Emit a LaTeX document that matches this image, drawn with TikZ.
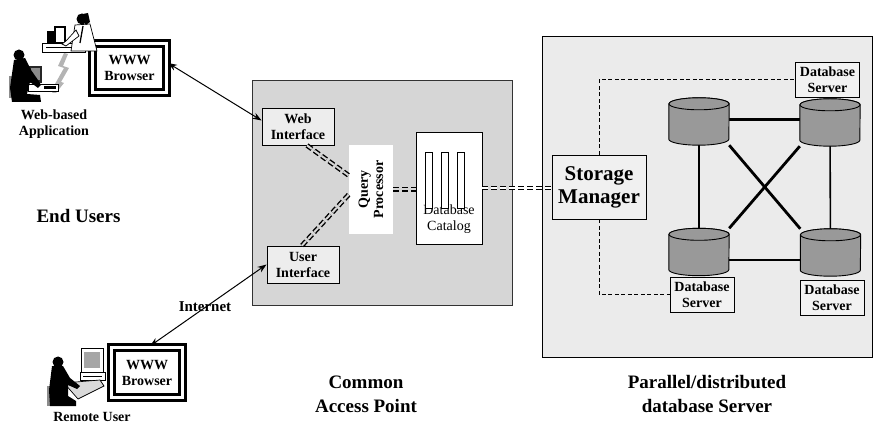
\documentclass[tikz,border=0pt]{standalone}
\usepackage{fontspec}
\setmainfont{Liberation Serif}
\usepackage{graphicx}
\usetikzlibrary{arrows.meta,calc}

\definecolor{midgray}{HTML}{D6D6D6}
\definecolor{panelgray}{HTML}{EBEBEB}
\definecolor{ifgray}{HTML}{EDEDED}
\definecolor{smgray}{HTML}{F0F0F0}
\definecolor{srvgray}{HTML}{F2F2F2}
\definecolor{drumgray}{HTML}{999999}
\definecolor{chairgray}{HTML}{8C8C8C}
\definecolor{boltgray}{HTML}{B4B4B4}

% cylinder (disk) drawn over an invisible placeholder node
\newcommand\drawdrum[1]{%
  \draw[drum] ($(#1.north west)+(0pt,-6pt)$) -- ($(#1.south west)+(0pt,6pt)$)
    arc[start angle=180,end angle=360,x radius=30pt,y radius=6pt]
    -- ($(#1.north east)+(0pt,-6pt)$)
    arc[start angle=0,end angle=180,x radius=30pt,y radius=6pt] -- cycle;
  \draw[drum] ($(#1.north)+(0pt,-6pt)$) ellipse[x radius=30pt,y radius=6pt];
}

\begin{document}
\begin{tikzpicture}[x=1pt,y=-1pt,
  lbl/.style={font=\bfseries\fontsize{14}{16}\selectfont, align=center, inner sep=0pt},
  caption/.style={font=\bfseries\fontsize{19}{24}\selectfont, align=center, inner sep=0pt},
  ifbox/.style={lbl, draw, fill=ifgray, line width=0.9pt, minimum width=72pt, minimum height=37pt},
  srvbox/.style={lbl, draw, fill=srvgray, line width=0.9pt, minimum width=64pt, minimum height=35pt},
  browser/.style={lbl, draw, double=white, double distance=3pt, line width=3pt},
  link/.style={line width=1pt, {Stealth[length=9pt,width=6.5pt]}-{Stealth[length=9pt,width=6.5pt]}},
  pipe/.style={double=midgray, double distance=2pt, line width=1.4pt, dash pattern=on 6pt off 3pt},
  ctrl/.style={line width=0.8pt, dash pattern=on 4pt off 2.5pt},
  mesh/.style={line width=2.8pt},
  drumbox/.style={minimum width=60pt, minimum height=47pt, inner sep=0pt},
  drum/.style={draw, fill=drumgray, line width=0.9pt}]

\useasboundingbox (0,0) rectangle (873,430);

% ---------- panels ----------
\node[draw=black!80, fill=midgray, line width=0.9pt, minimum width=260pt, minimum height=225pt, inner sep=0pt] (cap) at (382,192.5) {};
\node[draw, fill=panelgray, line width=0.9pt, minimum width=330pt, minimum height=321pt, inner sep=0pt] (dbs) at (707.5,196.5) {};

% ---------- common access point ----------
\node[ifbox] (web) at (298,126.5) {Web\\Interface};
\node[ifbox] (user) at (303,264.5) {User\\Interface};
\node[lbl, fill=white, minimum width=44pt, minimum height=89pt] (qp) at (371,189.5)
  {\rotatebox{90}{\shortstack{Query\\Processor}}};

\node[draw, fill=white, line width=0.9pt, minimum width=66pt, minimum height=112pt, inner sep=0pt] (cat) at (449,188) {};
\node[font=\fontsize{14}{16}\selectfont, align=center, inner sep=0pt] (catlbl) at (449,219) {Database\\Catalog};
\foreach \cx in {428.5,444.5,460.5}
  \draw[fill=white, line width=0.9pt] (\cx-3.5,152) rectangle (\cx+3.5,208);

% ---------- storage side ----------
\node[draw, fill=smgray, line width=0.9pt, minimum width=94pt, minimum height=64pt,
      font=\bfseries\fontsize{21}{23}\selectfont, align=center, inner sep=0pt] (sm) at (599,187) {Storage\\Manager};

\node[drumbox] (d1) at (699,121.5) {};
\node[drumbox] (d2) at (830,122.5) {};
\node[drumbox] (d3) at (699,252) {};
\node[drumbox] (d4) at (830.5,252.5) {};

% interconnect between the disks (ends hidden under the disks)
\draw[mesh] ([yshift=2pt]d1.center) -- ([yshift=2pt]d1.center -| d2.center);
\draw[mesh] ([yshift=-8pt]d3.center) -- ([yshift=-8pt]d3.center -| d4.center);
\draw[mesh] (d1.center) -- (d3.center);
\draw[line width=1.6pt] (d2.center) -- (d4.center);
\draw[mesh] (d1.south east) -- (d4.north west);
\draw[mesh] (d2.south west) -- (d3.north east);

\drawdrum{d1}
\drawdrum{d2}
\drawdrum{d3}
\drawdrum{d4}

\node[srvbox] (s2) at (827.5,79.5) {Database\\Server};
\node[srvbox] (s3) at (702,294.5) {Database\\Server};
\node[srvbox] (s4) at (832,298) {Database\\Server};

\draw[ctrl] (sm.north) -- (sm.north |- s2.west) -- (s2.west);
\draw[ctrl] (sm.south) -- (sm.south |- s3.west) -- (s3.west);

% ---------- data paths ----------
\draw[pipe] ([xshift=9pt]web.south) -- ([yshift=14pt]qp.west);
\draw[pipe] ([xshift=-1pt]user.north) -- ([yshift=-5pt]qp.west);
\draw[pipe] (qp.east) -- (qp.east -| cat.west);
\draw[pipe, double=white] (cat.east) -- (cat.east -| sm.west);

% ---------- end users ----------
\node[browser, minimum width=74pt, minimum height=49pt] (b1) at (129.5,68) {WWW\\Browser};
\node[browser, minimum width=71pt, minimum height=50pt] (b2) at (147,372.5) {WWW\\Browser};

\draw[link] ([yshift=5pt]b1.east) -- ([yshift=6pt]web.west);
\draw[link] ([xshift=3pt]b2.north) -- (user.west);

\node[lbl] (netlbl) at (205,307) {\fontsize{15}{17}\selectfont Internet};
\node[lbl] (wbapp) at (54,124) {Web-based\\Application};
\node[lbl] (remote) at (92,417) {Remote User};
\node[caption] (endusers) at (78.5,216) {End Users};
\node[caption] (capttl) at (366,394.5) {Common\\Access Point};
\node[caption] (dbsttl) at (707,394.5) {Parallel/distributed\\database Server};

% ---------- office worker at a workstation (top) ----------
\draw[fill=white, line width=0.7pt] (42,43) -- (85,43) -- (85,52) -- (42,52) -- cycle;
\draw[line width=0.5pt] (46,47.5) -- (80,47.5);
\fill[black] (47,31) rectangle (55,44);
\draw[fill=white, line width=1.3pt] (55,27) rectangle (65,43);
\draw[fill=white, line width=0.7pt] (75,25) -- (90,24) -- (97,51) -- (71,51) -- cycle;
\draw[line width=1.3pt] (83,26) -- (80,43);
\draw[fill=white, line width=0.7pt] (76,30) -- (66,41) -- (62,44) -- (66,46) -- (79,36) -- cycle;
\fill[black] (82,19) circle (5.5pt);
\fill[black] (78,15) -- (88,13) -- (90,22) -- (86,25) -- cycle;

% lightning-style link between the two stations
\fill[boltgray] (64,53) -- (58,66) -- (64,68) -- (55,84) -- (59,85) -- (52,93) -- (56,93)
  -- (64,83) -- (61,82) -- (69,68) -- (63,66) -- (68,54) -- cycle;

% ---------- seated user at a workstation (top left) ----------
\fill[chairgray] (9,76) rectangle (16,98);
\fill[black!85] (29,66) rectangle (42,83);
\fill[black!45] (31,68) rectangle (40,80);
\draw[fill=white, line width=0.7pt] (28,84) rectangle (58,91);
\fill[black] (44,86) rectangle (56,89);
\fill[black] (14,60) -- (25,58) -- (31,70) -- (38,80) -- (41,85) -- (38,88) -- (30,82)
  -- (27,94) -- (40,95) -- (41,102) -- (12,102) -- (10,88) -- cycle;
\fill[black] (19,55) circle (5.5pt);

% ---------- remote user at a workstation (bottom) ----------
\fill[chairgray] (47,386) rectangle (55,406);
\draw[fill=white, line width=1pt] (81,349) rectangle (103,372);
\fill[black!35] (84,352) rectangle (100,368);
\draw[fill=white, line width=0.7pt] (80,372) rectangle (105,380);
\draw[line width=0.5pt] (83,376) -- (102,376);
\draw[fill=black!15, line width=0.7pt] (64,383) -- (100,380) -- (104,386) -- (78,399) -- cycle;
\fill[black] (52,366) -- (63,366) -- (70,378) -- (80,386) -- (77,389) -- (68,385) -- (68,396)
  -- (76,401) -- (76,406) -- (50,406) -- (49,390) -- cycle;
\fill[black] (58,362) circle (5.5pt);

\end{tikzpicture}
\end{document}
